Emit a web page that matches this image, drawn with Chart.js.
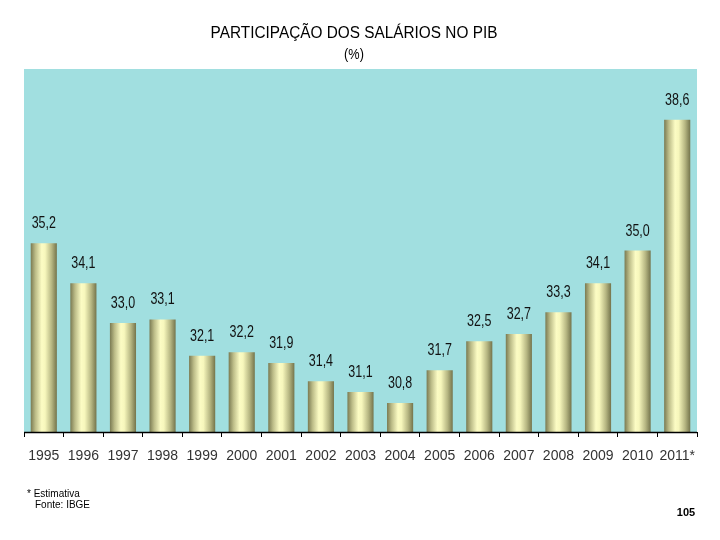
<!DOCTYPE html>
<html>
<head>
<meta charset="utf-8">
<script src="https://cdn.jsdelivr.net/npm/chart.js@4.4.1/dist/chart.umd.min.js"></script>
<style>
html,body{margin:0;padding:0;background:#fff;}
#wrap{width:720px;height:540px;position:relative;}
</style>
</head>
<body>
<div id="wrap"><canvas id="c" width="720" height="540"></canvas></div>
<script>
const years = ['1995','1996','1997','1998','1999','2000','2001','2002','2003','2004','2005','2006','2007','2008','2009','2010','2011*'];
const shares = [35.2,34.1,33.0,33.1,32.1,32.2,31.9,31.4,31.1,30.8,31.7,32.5,32.7,33.3,34.1,35.0,38.6];
const titleLines = ['PARTICIPAÇÃO DOS SALÁRIOS NO PIB','(%)'];
const notes = ['* Estimativa','Fonte: IBGE'];
const pageNumber = '105';

const SANS = "'Liberation Sans', Arial, sans-serif";

function barFill(ctx){
  const chart = ctx.chart;
  const xs = chart.scales && chart.scales.x;
  if(!xs || ctx.dataIndex === undefined) return '#e8e8a8';
  const cx = xs.getPixelForValue(ctx.dataIndex);
  const w = (xs.right - xs.left) / years.length * 0.66;
  if(!isFinite(cx) || !isFinite(w) || w <= 0) return '#e8e8a8';
  const g = chart.ctx.createLinearGradient(cx - w/2, 0, cx + w/2, 0);
  g.addColorStop(0, '#7a7a52');
  g.addColorStop(0.18, '#bcbc88');
  g.addColorStop(0.42, '#fcfcc4');
  g.addColorStop(0.55, '#f7f7bc');
  g.addColorStop(0.8, '#b6b682');
  g.addColorStop(1, '#74744c');
  return g;
}

function condensedText(ctx, txt, x, y, sx){
  ctx.save();
  ctx.translate(x, y);
  ctx.scale(sx, 1);
  ctx.fillText(txt, 0, 0);
  ctx.restore();
}

const decor = {
  id: 'decor',
  beforeDraw(chart){
    const {ctx, chartArea:a} = chart;
    ctx.save();
    ctx.fillStyle = '#a1dfe0';
    ctx.fillRect(a.left, a.top, a.right - a.left, a.bottom - a.top);
    ctx.restore();
  },
  afterDraw(chart){
    const {ctx, chartArea:a} = chart;
    ctx.save();
    ctx.fillStyle = '#000';
    ctx.textAlign = 'center';
    ctx.textBaseline = 'middle';
    ctx.font = "16px " + SANS;
    condensedText(ctx, titleLines[0], 354, 34, 0.96);
    ctx.font = "15px " + SANS;
    condensedText(ctx, titleLines[1], 354, 55, 0.85);
    const meta = chart.getDatasetMeta(0);
    ctx.font = "16px " + SANS;
    ctx.fillStyle = '#111';
    ctx.textBaseline = 'alphabetic';
    meta.data.forEach((bar, i) => {
      condensedText(ctx, shares[i].toFixed(1).replace('.', ','), bar.x, bar.y - 15, 0.78);
    });
    ctx.strokeStyle = '#000';
    ctx.lineWidth = 1.5;
    ctx.beginPath();
    ctx.moveTo(a.left, a.bottom + 0.5);
    ctx.lineTo(a.right, a.bottom + 0.5);
    ctx.stroke();
    ctx.textAlign = 'left';
    ctx.font = "10px " + SANS;
    ctx.fillStyle = '#000';
    ctx.fillText(notes[0], 27, 497);
    ctx.fillText(notes[1], 35, 508);
    ctx.font = "bold 11px " + SANS;
    ctx.textAlign = 'center';
    ctx.fillText(pageNumber, 686, 516);
    ctx.restore();
  }
};

new Chart(document.getElementById('c'), {
  type: 'bar',
  data: {
    labels: years,
    datasets: [{
      data: shares,
      backgroundColor: barFill,
      borderWidth: 0,
      categoryPercentage: 1.0,
      barPercentage: 0.66
    }]
  },
  options: {
    responsive: false,
    animation: false,
    devicePixelRatio: 1,
    layout: { padding: { left: 24, right: 23, top: 69, bottom: 0 } },
    plugins: { legend: { display: false }, tooltip: { enabled: false }, title: { display: false } },
    scales: {
      y: { display: false, min: 30, max: 40 },
      x: {
        afterFit(s){ s.height = 108; },
        border: { display: false },
        grid: { offset: true, drawOnChartArea: false, tickLength: 5, color: '#000', lineWidth: 1 },
        ticks: { color: '#333', padding: 11, maxRotation: 0, autoSkip: false, font: { family: SANS, size: 14 } }
      }
    }
  },
  plugins: [decor]
});
</script>
</body>
</html>
